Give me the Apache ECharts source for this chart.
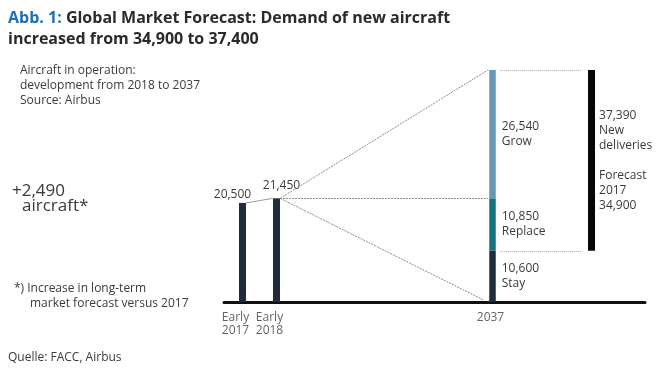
<!DOCTYPE html>
<html>
<head>
<meta charset="utf-8">
<script src="https://cdn.jsdelivr.net/npm/echarts@6/dist/echarts.min.js"></script>
<style>
html,body{margin:0;padding:0;background:#fff;}
#chart{width:665px;height:370px;}
</style>
</head>
<body>
<div id="chart"></div>
<script>
// ---- data ----
const categories = ['Early\n2017', 'Early\n2018', '2037'];
const fleet = [20500, 21450];                 // aircraft in operation, Early 2017 / Early 2018
const segNames = ['Stay', 'Replace', 'Grow']; // 2037 composition
const segValues = [10600, 10850, 26540];
const newDeliveries = 37390;
const forecast2017 = 34900;
const increase = 2490;

// ---- layout ----
const slot = [0, 1, 7.353, 10.265];  // x positions of the bars on the horizontal axis
const hb = 0.105;                    // half bar width in axis units
const fmt = v => v.toLocaleString('en-US');
const FONT = '"Open Sans", "Noto Sans", sans-serif';
const TXT = '#3a3a3a';
const segColors = ['#1f2c3e', '#14717f', '#6699b6'];
const stayV = segValues[0];

// derived stacked ranges [x, from, to, labelText, color]
let acc = 0;
const stackData = segValues.map((v, i) => {
  const r = [slot[2], acc, acc + v, fmt(v) + '\n' + segNames[i], segColors[i]];
  acc += v;
  return r;
});
const total = acc;
const deliveriesData = [[slot[3], stayV, stayV + newDeliveries,
  fmt(newDeliveries) + '\nNew\ndeliveries\n\nForecast\n2017\n' + fmt(forecast2017), '#060606']];

function rangeBar(rows, width, dist) {
  return function (params, api) {
    const d = rows[params.dataIndex];
    const p0 = api.coord([api.value(0), api.value(1)]);
    const p1 = api.coord([api.value(0), api.value(2)]);
    return {
      type: 'rect',
      shape: {x: p0[0] - width / 2, y: p1[1], width: width, height: p0[1] - p1[1]},
      style: {fill: d[4]},
      textContent: {style: {text: d[3], fill: TXT, font: '12px ' + FONT, lineHeight: 15}},
      textConfig: {position: 'right', distance: dist}
    };
  };
}

const chart = echarts.init(document.getElementById('chart'), null, {renderer: 'canvas'});

const dotted = {color: '#8c8c8c', width: 1, type: [2, 1]};
const lightDotted = {color: '#a8a8a8', width: 1, type: [1, 1]};

const option = {
  animation: false,
  textStyle: {fontFamily: FONT},
  grid: {left: 224, right: 20, top: 70, bottom: 68},
  xAxis: {
    type: 'value', min: -0.544, max: 11.838,
    splitLine: {show: false}, axisTick: {show: false}, axisLabel: {show: false},
    axisLine: {show: true, onZero: true, lineStyle: {color: '#111', width: 3}}
  },
  yAxis: {type: 'value', min: 0, max: 48000, show: false},
  graphic: [
    {type: 'text', left: 8, top: 7.5,
      style: {text: '{b|Abb. 1:} Global Market Forecast: Demand of new aircraft\nincreased from 34,900 to 37,400',
        font: 'bold 16px ' + FONT, fill: '#2a2a2a', lineHeight: 21,
        rich: {b: {font: 'bold 16px ' + FONT, fill: '#1b6fb5', lineHeight: 21}}}},
    {type: 'text', left: 20, top: 63, style: {text: 'Aircraft in operation:\ndevelopment from 2018 to 2037\nSource: Airbus',
      font: '12px ' + FONT, fill: TXT, lineHeight: 15}},
    {type: 'text', left: 12, top: 183, style: {text: '+' + fmt(increase), font: '17px ' + FONT, fill: TXT}},
    {type: 'text', left: 22, top: 198, style: {text: 'aircraft*', font: '17px ' + FONT, fill: TXT}},
    {type: 'text', left: 14, top: 283, style: {text: '*) Increase in long-term', font: '12px ' + FONT, fill: TXT}},
    {type: 'text', left: 30, top: 298, style: {text: 'market forecast versus 2017', font: '12px ' + FONT, fill: TXT}},
    {type: 'text', left: 8, top: 352, style: {text: 'Quelle: FACC, Airbus', font: '12px ' + FONT, fill: TXT}}
  ],
  series: [
    {
      name: 'Aircraft in operation', type: 'bar', barWidth: 7,
      itemStyle: {color: segColors[0]},
      data: [
        {value: [slot[0], fleet[0]], label: {show: true, position: 'top', distance: 2, offset: [-10, 0]}},
        {value: [slot[1], fleet[1]], label: {show: true, position: 'top', distance: 7, offset: [5, 0]}}
      ],
      label: {color: TXT, fontFamily: FONT, fontSize: 12, formatter: p => fmt(p.value[1])},
      markLine: {
        silent: true, symbol: 'none', label: {show: false},
        data: [
          [{coord: [slot[0] + hb, fleet[0]], lineStyle: {color: '#9a9a9a', width: 1, type: 'solid'}}, {coord: [slot[1] - hb, fleet[1]]}],
          [{coord: [slot[1] + hb, fleet[1]], lineStyle: dotted}, {coord: [slot[2] - hb - 0.03, total]}],
          [{coord: [slot[1] + hb, fleet[1]], lineStyle: dotted}, {coord: [slot[2] - hb - 0.03, fleet[1]]}],
          [{coord: [slot[1] + hb, fleet[1]], lineStyle: dotted}, {coord: [slot[2] - hb - 0.15, 400]}],
          [{coord: [slot[2] + hb + 0.12, total], lineStyle: lightDotted}, {coord: [slot[3] - hb - 0.2, total]}],
          [{coord: [slot[2] + hb + 0.12, stayV], lineStyle: lightDotted}, {coord: [slot[3] - hb - 0.2, stayV]}]
        ]
      }
    },
    {
      name: '2037', type: 'custom', renderItem: rangeBar(stackData, 6.5, 6),
      encode: {x: 0, y: [1, 2]},
      data: stackData.map(r => r.slice(0, 3))
    },
    {
      name: 'New deliveries', type: 'custom', renderItem: rangeBar(deliveriesData, 7, 4),
      encode: {x: 0, y: [1, 2]},
      data: deliveriesData.map(r => r.slice(0, 3))
    },
    {
      name: 'x labels', type: 'scatter', symbolSize: 0, silent: true,
      data: categories.map((c, i) => ({
        value: [slot[i], 0],
        label: {offset: [c.indexOf('\n') >= 0 ? -7 : -2, 0]}
      })),
      label: {show: true, position: 'bottom', distance: 9, color: TXT, fontFamily: FONT, fontSize: 12, lineHeight: 13,
        formatter: p => categories[p.dataIndex]}
    }
  ]
};
chart.setOption(option);
</script>
</body>
</html>
